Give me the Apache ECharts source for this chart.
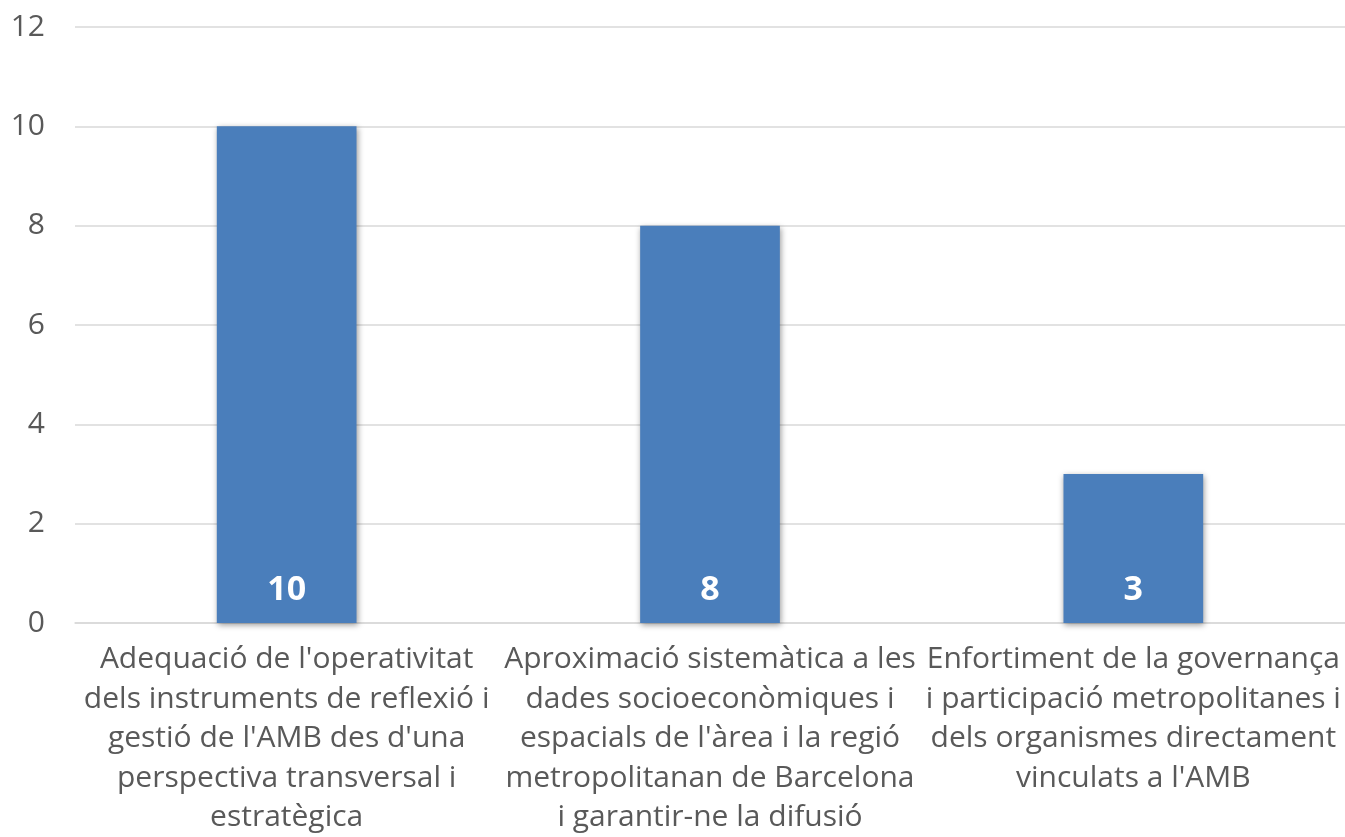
<!DOCTYPE html>
<html>
<head>
<meta charset="utf-8">
<script src="https://cdn.jsdelivr.net/npm/echarts@6/dist/echarts.min.js"></script>
<style>
  html, body { margin: 0; padding: 0; background: #fff; overflow: hidden; }
  #chart { width: 1345px; height: 837px; }
</style>
</head>
<body>
<div id="chart"></div>
<script>
// categories (line breaks as in the original)
var categories = [
  "Adequació de l'operativitat\ndels instruments de reflexió i\ngestió de l'AMB des d'una\nperspectiva transversal i\nestratègica",
  "Aproximació sistemàtica a les\ndades socioeconòmiques i\nespacials de l'àrea i la regió\nmetropolitanan de Barcelona\ni garantir-ne la difusió",
  "Enfortiment de la governança\ni participació metropolitanes i\ndels organismes directament\nvinculats a l'AMB"
];
var values = [10, 8, 3];

var myChart = echarts.init(document.getElementById("chart"));

var option = {
  animation: false,
  // grid fixe, sans réajustement automatique aux étiquettes
  grid: { left: 75, right: 0, top: 27, bottom: 214, containLabel: false, outerBoundsMode: "none" },
  xAxis: {
    type: "category",
    data: categories,
    axisLine: { lineStyle: { color: "#d9d9d9", width: 1.5 } },
    axisTick: { show: false },
    axisLabel: {
      interval: 0,
      margin: 17,
      color: "#595959",
      fontFamily: "Open Sans",
      fontSize: 30,
      lineHeight: 39.5
    }
  },
  yAxis: {
    type: "value",
    min: 0,
    max: 12,
    interval: 2,
    axisLine: { show: false },
    axisTick: { show: false },
    splitLine: { lineStyle: { color: "#d9d9d9", width: 1.5 } },
    axisLabel: {
      margin: 30,
      color: "#595959",
      fontFamily: "Open Sans",
      fontSize: 30
    }
  },
  series: [
    {
      type: "bar",
      data: values,
      barWidth: "33%",
      itemStyle: {
        color: "#4a7ebb",
        shadowColor: "rgba(0,0,0,0.4)",
        shadowBlur: 6,
        shadowOffsetX: 1,
        shadowOffsetY: 2
      },
      label: {
        show: true,
        position: "insideBottom",
        distance: 16,
        color: "#fff",
        fontFamily: "Open Sans",
        fontWeight: "bold",
        fontSize: 34
      }
    }
  ]
};

myChart.setOption(option);
</script>
</body>
</html>
